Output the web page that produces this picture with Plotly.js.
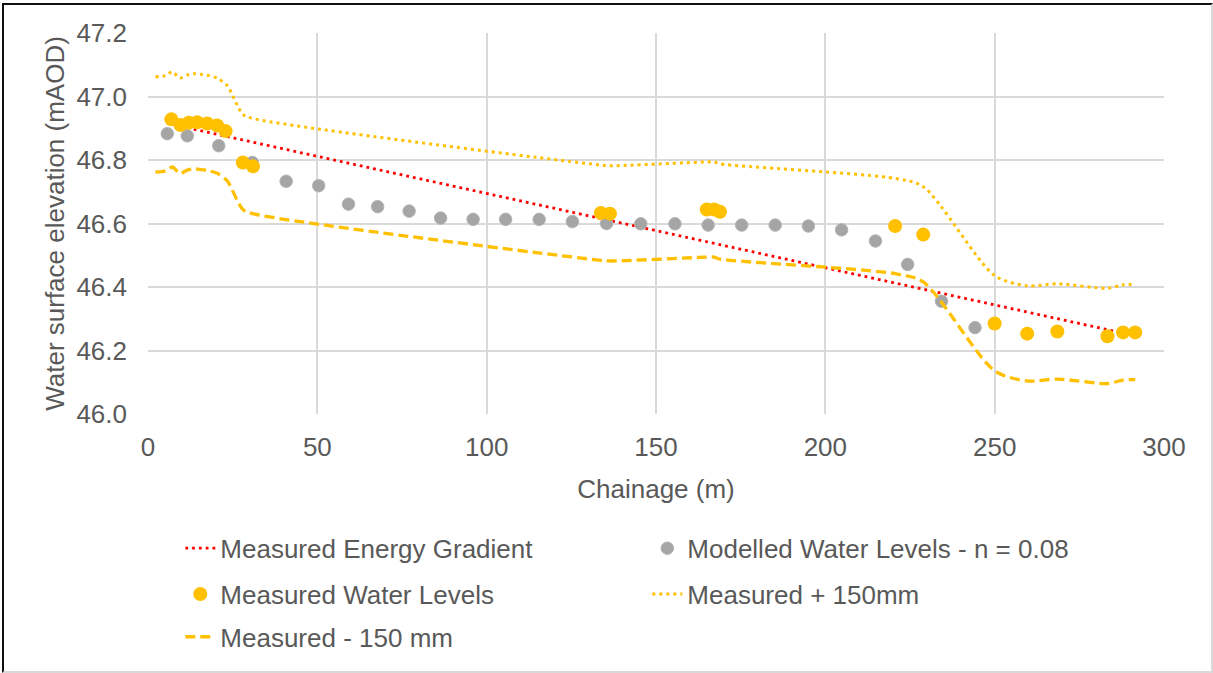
<!DOCTYPE html>
<html>
<head>
<meta charset="utf-8">
<script src="https://cdn.plot.ly/plotly-3.0.1.min.js"></script>
<style>
  html, body { margin: 0; padding: 0; background: #fff; }
  #wrap { position: relative; width: 1213px; height: 673px; }
  #chart { width: 1213px; height: 673px; }
  #frame { position: absolute; left: 2px; top: 3px; width: 1207px; height: 666px;
           border-left: 2px solid #111; border-top: 2px solid #111;
           border-right: 2px solid #d9d9d9; border-bottom: 2px solid #d9d9d9;
           pointer-events: none; }
</style>
</head>
<body>
<div id="wrap">
  <div id="chart"></div>
  <div id="frame"></div>
</div>
<script>
// Measured Energy Gradient (linear trend)
const gradX = [13.5, 293];
const gradY = [46.897, 46.243];

// Modelled Water Levels - n = 0.08
const modX = [5.7, 11.6, 20.9, 30.8, 40.8, 50.4, 59.2, 67.8, 77.1, 86.4, 96.0, 105.6, 115.5, 125.3, 135.4, 145.5, 155.6, 165.4, 175.3, 185.2, 195.0, 204.8, 214.8, 224.3, 234.3, 244.2];
const modY = [46.883, 46.876, 46.845, 46.792, 46.733, 46.719, 46.661, 46.653, 46.639, 46.617, 46.613, 46.613, 46.613, 46.606, 46.600, 46.599, 46.599, 46.595, 46.595, 46.595, 46.592, 46.580, 46.545, 46.471, 46.355, 46.272];

// Measured Water Levels
const measX = [6.9, 9.6, 12.0, 14.5, 17.5, 20.4, 22.9, 28.0, 31.0, 133.7, 136.4, 165.0, 167.2, 168.9, 220.6, 228.9, 250.0, 259.6, 268.5, 283.3, 287.9, 291.5];
const measY = [46.928, 46.910, 46.917, 46.919, 46.915, 46.909, 46.891, 46.792, 46.780, 46.633, 46.631, 46.644, 46.644, 46.637, 46.592, 46.565, 46.285, 46.253, 46.260, 46.245, 46.257, 46.257];

// Measured + 150mm
const plusX = [2.2, 5.2, 7.2, 9.4, 11.6, 13.5, 15.5, 17.5, 20.4, 23.4, 28.0, 31.3, 133.7, 136.4, 165.0, 167.2, 168.9, 220.6, 228.9, 250.0, 259.6, 268.5, 283.3, 287.9, 291.5];
const plusY = [47.062, 47.066, 47.078, 47.058, 47.068, 47.072, 47.070, 47.067, 47.058, 47.034, 46.944, 46.930, 46.784, 46.782, 46.794, 46.794, 46.788, 46.742, 46.716, 46.436, 46.404, 46.410, 46.396, 46.407, 46.408];

// Measured - 150 mm
const minusX = [2.2, 5.2, 7.2, 9.4, 11.6, 13.5, 15.5, 17.5, 20.4, 23.4, 28.0, 31.3, 133.7, 136.4, 165.0, 167.2, 168.9, 220.6, 228.9, 250.0, 259.6, 268.5, 283.3, 287.9, 291.5];
const minusY = [46.762, 46.766, 46.778, 46.758, 46.768, 46.772, 46.770, 46.767, 46.758, 46.734, 46.644, 46.630, 46.484, 46.482, 46.494, 46.494, 46.488, 46.442, 46.416, 46.136, 46.104, 46.110, 46.096, 46.107, 46.108];

const xTicks = [0, 50, 100, 150, 200, 250, 300];
const yTicks = [46.0, 46.2, 46.4, 46.6, 46.8, 47.0, 47.2];

const FONT = 'Liberation Sans, Arial, sans-serif';
const TXT = '#595959';
const FS = 26;

const traces = [
  { x: gradX, y: gradY, type: 'scatter', mode: 'lines', name: 'Measured Energy Gradient',
    line: { color: '#FF0000', width: 2.8, dash: '2.8px,4px' }, legend: 'legend' },
  { x: modX, y: modY, type: 'scatter', mode: 'markers', name: 'Modelled Water Levels - n = 0.08',
    marker: { color: '#A5A5A5', size: 12.5, line: { width: 1, color: '#B4B4B4' } }, legend: 'legend' },
  { x: measX, y: measY, type: 'scatter', mode: 'markers', name: 'Measured Water Levels',
    marker: { color: '#FFC000', size: 14, line: { width: 0 } }, legend: 'legend2' },
  { x: plusX, y: plusY, type: 'scatter', mode: 'lines', name: 'Measured + 150mm',
    line: { color: '#FFC000', width: 3, dash: '3px,4px', shape: 'spline', smoothing: 0.8 }, legend: 'legend2' },
  { x: minusX, y: minusY, type: 'scatter', mode: 'lines', name: 'Measured - 150 mm',
    line: { color: '#FFC000', width: 3.3, dash: '10px,5px', shape: 'spline', smoothing: 0.8 }, legend: 'legend3' }
];

const legBase = {
  orientation: 'h', xanchor: 'left', yanchor: 'middle', x: 0.0318,
  font: { family: FONT, size: FS, color: TXT },
  entrywidth: 422, entrywidthmode: 'pixels', bgcolor: 'rgba(0,0,0,0)', traceorder: 'normal'
};

const layout = {
  width: 1213, height: 673,
  margin: { l: 148, r: 49, t: 33, b: 257 },
  paper_bgcolor: '#ffffff', plot_bgcolor: '#ffffff',
  font: { family: FONT, size: FS, color: TXT },
  showlegend: true,
  xaxis: {
    range: [0, 300], tickvals: xTicks, ticktext: xTicks.map(String),
    showgrid: true, gridcolor: '#D9D9D9', gridwidth: 2,
    zeroline: false, showline: false, ticks: '', ticklabelstandoff: 15,
    tickfont: { family: FONT, size: FS, color: TXT },
    title: { text: 'Chainage (m)', font: { family: FONT, size: FS, color: TXT }, standoff: 18 }
  },
  yaxis: {
    range: [46.0, 47.2], tickvals: yTicks, ticktext: yTicks.map(v => v.toFixed(1)),
    showgrid: true, gridcolor: '#D9D9D9', gridwidth: 2,
    zeroline: false, showline: false, ticks: '', ticklabelstandoff: 20,
    tickfont: { family: FONT, size: FS, color: TXT },
    title: { text: 'Water surface elevation (mAOD)', font: { family: FONT, size: FS, color: TXT }, standoff: 4 }
  },
  legend: Object.assign({}, legBase, { y: -0.3525 }),
  legend2: Object.assign({}, legBase, { y: -0.4726 }),
  legend3: Object.assign({}, legBase, { y: -0.5849 })
};

Plotly.newPlot('chart', traces, layout, { displayModeBar: false, staticPlot: true });
</script>
</body>
</html>
